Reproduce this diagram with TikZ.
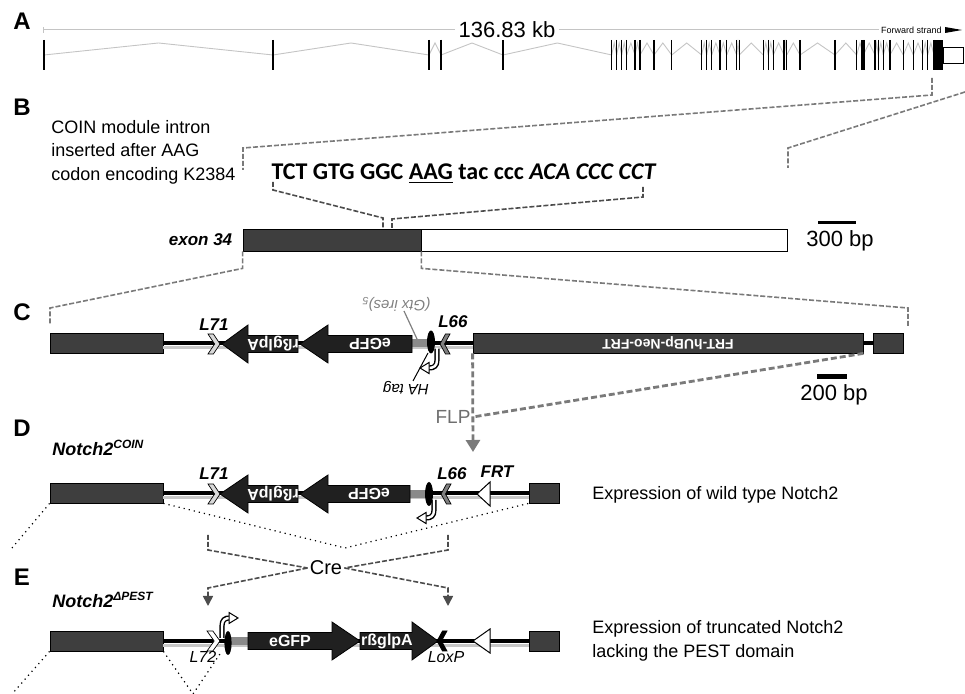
\documentclass[tikz,border=0pt]{standalone}
\usepackage{fontspec}
\usepackage{graphicx}
\setmainfont{Liberation Sans}
\newfontfamily\seqfont{Carlito}
\usetikzlibrary{positioning,arrows.meta}

\definecolor{exongray}{HTML}{3E3E3E}
\definecolor{cassettefill}{HTML}{202020}
\definecolor{stubgray}{HTML}{8A8A8A}
\definecolor{introngray}{HTML}{C4C4C4}
\definecolor{guidegray}{HTML}{7A7A7A}
\definecolor{flpgray}{HTML}{6E6E6E}

% exon positions of the gene track (px from the left)
\newcommand{\exonlist}{273,429,441,503,611.7,616.7,621.7,626.7,635,640,654,671.7,701.7,706.7,711.7,720,726.7,736.7,739.3,763.3,768.3,773.3,784,786.7,800,835,856.7,863.3,875,878.3,883.3,890,903.3,913.3,922.7,927.7,934}

% arrow shaped cassette element: tip, head base, tail, centre line
\newcommand{\genearrow}[4]{%
  \filldraw[fill=cassettefill, draw=black, line width=0.4pt]
    (#3,#4-8.5) -- (#2,#4-8.5) -- (#2,#4-19) -- (#1,#4)
    -- (#2,#4+19) -- (#2,#4+8.5) -- (#3,#4+8.5) -- cycle;}

% chevron shaped lox site: back, point, centre line, fill
\newcommand{\loxsite}[4]{%
  \filldraw[fill=#4, draw=black, line width=0.35pt]
    (#1,#3-10) -- ({#1+0.45*(#2-#1)},#3-10) -- (#2,#3)
    -- ({#1+0.45*(#2-#1)},#3+10) -- (#1,#3+10) -- ({#1+0.55*(#2-#1)},#3) -- cycle;}

\begin{document}
\begin{tikzpicture}[x=0.5pt,y=-0.5pt,
  exonbox/.style={draw=black, line width=0.4pt, fill=exongray, inner sep=0pt, minimum height=10pt},
  backbone/.style={line width=2pt},
  shadowline/.style={draw=black!22, line width=1.3pt},
  guide/.style={draw=guidegray, line width=0.8pt, dash pattern=on 2.5pt off 1pt},
  flpguide/.style={draw=guidegray, line width=1.4pt, dash pattern=on 3pt off 1.5pt},
  creguide/.style={draw=black!70, line width=0.8pt, dash pattern=on 2.5pt off 1pt},
  splice/.style={line width=0.6pt, dotted},
  intron/.style={draw=introngray, line width=0.45pt},
  panel/.style={font=\bfseries\fontsize{12}{14}\selectfont},
  site/.style={font=\bfseries\itshape\fontsize{8.5}{10}\selectfont, inner sep=1pt},
  sitelight/.style={font=\itshape\fontsize{8}{10}\selectfont, inner sep=1pt},
  intext/.style={text=white, font=\bfseries\fontsize{8}{9}\selectfont, inner sep=0pt},
  body/.style={font=\fontsize{9}{11.75}\selectfont, align=left, inner sep=0pt},
  scaletext/.style={font=\fontsize{11}{13}\selectfont, inner sep=0pt},
]
\useasboundingbox (0,0) rectangle (965,694);

% ---- A: gene track
\node[panel] (labA) at (22,21) {A};
\node[font=\fontsize{11}{13}\selectfont, inner sep=1.5pt] (kb) at (507,30) {136.83 kb};
\node[font=\fontsize{4.5}{5}\selectfont, anchor=east, inner sep=1pt] (strand) at (944,30) {Forward strand};
\draw[introngray, line width=0.5pt] (43,30) -- (kb.west) (kb.east) -- (strand.west);
\draw[introngray, line width=0.5pt] (43,27) -- (43,33);
\fill (945,27) -- (962,30) -- (945,33) -- cycle;
\foreach \b [remember=\b as \a (initially 44)] in \exonlist
  \draw[intron] (\a,55) -- ({(\a+\b)/2},43) -- (\b,55);
\draw[line width=0.6pt] (44,40) -- (44,70);
\foreach \x in \exonlist
  \draw[line width=0.6pt] (\x,40) -- (\x,70);
\draw[line width=1.3pt] (441,40) -- (441,70);
\draw[line width=2pt] (863.3,40) -- (863.3,70);
\node[fill=black, inner sep=0pt, minimum width=4.5pt, minimum height=15pt] (a34) at (938.5,55) {};
\node[draw, line width=0.4pt, inner sep=0pt, minimum width=10pt, minimum height=8pt] (autr) at (953,55) {};

\draw[guide] (932,78) -- (932,95) -- (243,148) -- (243,170);
\draw[guide] (965,92) -- (788,148) -- (788,168);

% ---- B: exon 34
\node[panel] (labB) at (22,107) {B};
\node[body, anchor=west] (coin) at (51,152) {COIN module intron\\inserted after AAG\\codon encoding K2384};
\node[font=\seqfont\bfseries\fontsize{12}{14}\selectfont, inner sep=0pt] (seq) at (464,174)
  {TCT GTG GGC \underline{AAG} tac ccc \textit{ACA CCC CCT}};
\draw[creguide] (273,182) -- (273,190) -- (383,218) -- (383,228);
\draw[creguide] (643,187) -- (643,197) -- (392,219) -- (392,228);
\node[exonbox, minimum width=89pt, minimum height=11pt] (ex34cds) at (332,240) {};
\node[exonbox, fill=white, minimum width=183pt, minimum height=11pt] (ex34utr) at (604,240) {};
\node[site, left=4pt of ex34cds] (ex34lab) {exon 34};
\draw[line width=1.5pt] (818,223) -- (856,223);
\node[scaletext] (bar300) at (840,241) {300 bp};

\draw[guide] (ex34cds.south west) -- ++(0,17) -- (50,308) -- (50,325);
\draw[guide] (ex34cds.south east) -- ++(0,17) -- (908,308) -- (908,327);

% ---- C: targeting allele
\node[panel] (labC) at (22,312) {C};
\node[exonbox, minimum width=56.5pt] (cex1) at (106.5,343) {};
\node[exonbox, minimum width=195pt, text=white, font=\bfseries\fontsize{7}{8}\selectfont] (neo) at (668,343) {\rotatebox{180}{FRT-hUBp-Neo-FRT}};
\node[exonbox, minimum width=15pt] (cex2) at (888,343) {};
\draw[shadowline] ([yshift=-2.3pt]cex1.east) -- ([yshift=-2.3pt]neo.west);
\draw[backbone] (cex1.east) -- (neo.west);
\draw[backbone] (neo.east) -- (cex2.west);
\fill[stubgray] (412,339.5) rectangle (428,347.5);
\genearrow{300}{328}{412}{344}
\genearrow{222}{248}{298}{344}
\node[intext] (cgfp) at (370,344) {\rotatebox{180}{eGFP}};
\node[intext] (cpa) at (273,344) {\rotatebox{180}{rßglpA}};
\loxsite{208}{220}{344}{black!15}
\loxsite{450}{440}{344}{gray}
\fill (431,342) ellipse [x radius=2pt, y radius=5.75pt];
\draw[line width=2.6pt] (437,349) -- (437,360) .. controls (437,366) and (434,368) .. (429,368);
\draw[line width=1.2pt, white] (437,348) -- (437,360) .. controls (437,366) and (434,368) .. (428,368);
\filldraw[fill=white, line width=0.5pt] (429,362.5) -- (420,368) -- (429,373.5) -- cycle;
\node[site] (l71c) at (214,325) {L71};
\node[site] (l66c) at (453,322) {L66};
\node[sitelight, text=gray, font=\itshape\fontsize{7.5}{9}\selectfont] (gtx) at (396,304) {\rotatebox{180}{(Gtx ires)\textsubscript{5}}};
\draw[gray, line width=0.6pt] (404,311) -- (417,339);
\node[sitelight, font=\itshape\fontsize{7.5}{9}\selectfont] (hatag) at (406,388) {\rotatebox{180}{HA tag}};
\draw[line width=0.5pt] (413,381) -- (428,353);
\draw[line width=2.5pt] (817,377) -- (847,377);
\node[scaletext] (bar200) at (834,395) {200 bp};

% FLP excision
\node[text=flpgray, font=\fontsize{9.5}{11}\selectfont, inner sep=1pt] (flp) at (453,417) {FLP};
\draw[flpguide, -{Triangle[width=7pt,length=6pt]}] (neo.south west) -- (473,452);
\draw[flpguide] (neo.south east) -- (flp.east);

% ---- D: COIN allele
\node[panel] (labD) at (22,428) {D};
\node[site, anchor=west, font=\bfseries\itshape\fontsize{9}{10}\selectfont] (notchD) at (50,448) {Notch2\textsuperscript{COIN}};
\node[exonbox, minimum width=56.5pt] (dex1) at (106.5,493) {};
\node[exonbox, minimum width=15pt] (dex2) at (544,493) {};
\draw[shadowline] ([yshift=-2.3pt]dex1.east) -- ([yshift=-2.3pt]dex2.west);
\draw[backbone] (dex1.east) -- (dex2.west);
\fill[stubgray] (410,490) rectangle (428,498);
\genearrow{300}{328}{410}{494}
\genearrow{220}{248}{298}{494}
\node[intext] (dgfp) at (369,494) {\rotatebox{180}{eGFP}};
\node[intext] (dpa) at (273,494) {\rotatebox{180}{rßglpA}};
\loxsite{208}{220}{494}{black!15}
\loxsite{451}{441}{494}{gray}
\fill (429,494) ellipse [x radius=2pt, y radius=6pt];
\draw[line width=2.6pt] (434,500) -- (434,510) .. controls (434,516) and (431,518) .. (426,518);
\draw[line width=1.2pt, white] (434,499) -- (434,510) .. controls (434,516) and (431,518) .. (425,518);
\filldraw[fill=white, line width=0.5pt] (426,512.5) -- (417,518) -- (426,523.5) -- cycle;
\filldraw[fill=white, line width=0.5pt] (477,494) -- (490,482) -- (490,506) -- cycle;
\node[site] (l71d) at (214,474) {L71};
\node[site] (l66d) at (452,474) {L66};
\node[site] (frtd) at (497,472) {FRT};
\draw[splice] (dex1.south west) -- (12,548);
\draw[splice] (dex1.south east) -- (345,548) -- (dex2.south west);
\node[body, anchor=west] (wtD) at (592,495) {Expression of wild type Notch2};

% Cre recombination
\node[font=\fontsize{10}{12}\selectfont, inner sep=1pt] (cre) at (326,568) {Cre};
\draw[creguide] (208,535) -- (208,550) -- (cre.west);
\draw[creguide] (448,535) -- (448,550) -- (cre.east);
\draw[creguide, -{Triangle[width=5pt,length=5pt]}] (cre.west) -- (208,588) -- (208,606);
\draw[creguide, -{Triangle[width=5pt,length=5pt]}] (cre.east) -- (448,588) -- (448,606);

% ---- E: inverted allele
\node[panel] (labE) at (22,577) {E};
\node[site, anchor=west, font=\bfseries\itshape\fontsize{9}{10}\selectfont] (notchE) at (50,600) {Notch2\textsuperscript{ΔPEST}};
\node[exonbox, minimum width=56.5pt] (eex1) at (106.5,641) {};
\node[exonbox, minimum width=15pt] (eex2) at (544,641) {};
\draw[shadowline] ([yshift=-2.3pt]eex1.east) -- ([yshift=-2.3pt]eex2.west);
\draw[backbone] (eex1.east) -- (eex2.west);
\fill[stubgray] (230,637) rectangle (248,645);
\genearrow{360}{332}{248}{641}
\genearrow{438}{412}{360}{641}
\node[intext] (egfp) at (290,641) {eGFP};
\node[intext] (epa) at (387,641) {rßglpA};
\loxsite{207}{220}{641}{white}
\loxsite{447}{437}{641}{black}
\fill (228,643) ellipse [x radius=1.8pt, y radius=6pt];
\draw[line width=2.6pt] (222,638) -- (222,626) .. controls (222,620) and (225,618) .. (229,618);
\draw[line width=1.2pt, white] (222,639) -- (222,626) .. controls (222,620) and (225,618) .. (230,618);
\filldraw[fill=white, line width=0.5pt] (229,612.5) -- (238,618) -- (229,623.5) -- cycle;
\filldraw[fill=white, line width=0.5pt] (473,641) -- (490,629) -- (490,653) -- cycle;
\node[sitelight] (l72e) at (203,657) {L72};
\node[sitelight] (loxe) at (446,657) {LoxP};
\draw[splice] (eex1.south west) -- (12,694);
\draw[splice] (eex1.south east) -- (193,694) -- (222,651);
\node[body, anchor=west] (truncE) at (592,641) {Expression of truncated Notch2\\lacking the PEST domain};
\end{tikzpicture}
\end{document}
